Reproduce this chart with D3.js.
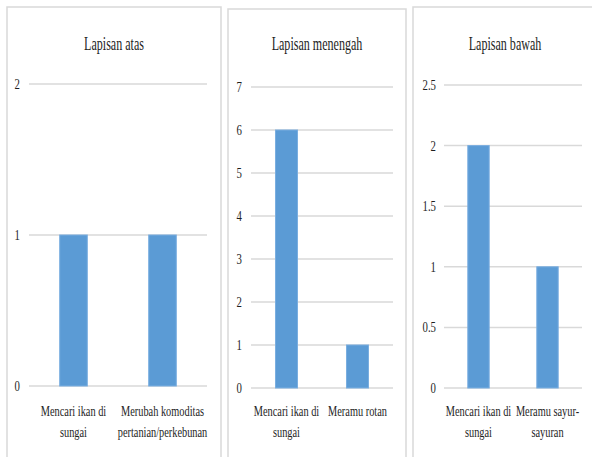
<!DOCTYPE html>
<html>
<head>
<meta charset="utf-8">
<script src="https://cdn.jsdelivr.net/npm/d3@7"></script>
<style>
  html, body { margin: 0; padding: 0; background: #fff; }
</style>
</head>
<body>
<svg id="chart" width="592" height="457"></svg>
<script>
// ---- data ----
const titles = ["Lapisan atas", "Lapisan menengah", "Lapisan bawah"];
const categoriesAtas = ["Mencari ikan di\nsungai", "Merubah komoditas\npertanian/perkebunan"];
const valuesAtas = [1, 1];
const ticksAtas = [0, 1, 2];
const categoriesMenengah = ["Mencari ikan di\nsungai", "Meramu rotan"];
const valuesMenengah = [6, 1];
const ticksMenengah = [0, 1, 2, 3, 4, 5, 6, 7];
const categoriesBawah = ["Mencari ikan di\nsungai", "Meramu sayur-\nsayuran"];
const valuesBawah = [2, 1];
const ticksBawah = [0, 0.5, 1, 1.5, 2, 2.5];

// ---- layout (positions only) ----
const layouts = [
  { bx0: 7,   bx1: 221, by: 7, px0: 29,  px1: 207, pTop: 84, pBot: 386, tickX: 20,  titleX: 114 },
  { bx0: 228, bx1: 406, by: 9, px0: 251, px1: 393, pTop: 87, pBot: 388, tickX: 242, titleX: 317 },
  { bx0: 413, bx1: 600, by: 7, px0: 444, px1: 582, pTop: 85, pBot: 388, tickX: 436, titleX: 505 }
];
const panels = [
  { title: titles[0], cats: categoriesAtas, vals: valuesAtas, ticks: ticksAtas },
  { title: titles[1], cats: categoriesMenengah, vals: valuesMenengah, ticks: ticksMenengah },
  { title: titles[2], cats: categoriesBawah, vals: valuesBawah, ticks: ticksBawah }
];

const FONT = "Liberation Serif";
const svg = d3.select("#chart");
svg.append("rect").attr("width", 592).attr("height", 457).attr("fill", "#fff");

function condensedText(g, x, y, str, size, anchor, sx) {
  return g.append("text")
    .attr("transform", `translate(${x},${y}) scale(${sx},1)`)
    .attr("text-anchor", anchor)
    .style("font-family", FONT)
    .attr("font-size", size)
    .attr("fill", "#1e1e1e")
    .text(str);
}

panels.forEach((p, i) => {
  const L = layouts[i];
  const g = svg.append("g");
  g.append("path")
    .attr("d", `M${L.bx0},470 V${L.by} H${L.bx1} V470`)
    .attr("fill", "none").attr("stroke", "#d9d9d9").attr("stroke-width", 1.5);

  const y = d3.scaleLinear().domain([0, d3.max(p.ticks)]).range([L.pBot, L.pTop]);
  const x = d3.scaleBand().domain(p.cats).range([L.px0, L.px1]).paddingInner(0.69).paddingOuter(0.345);

  g.selectAll(".grid").data(p.ticks).enter().append("line")
    .attr("x1", L.px0).attr("x2", L.px1)
    .attr("y1", d => y(d)).attr("y2", d => y(d))
    .attr("stroke", "#d9d9d9").attr("stroke-width", 1.5);

  p.ticks.forEach(t => {
    condensedText(g, L.tickX, y(t) + 5, String(t), 15, "end", 0.72);
  });

  g.selectAll(".bar").data(p.vals).enter().append("rect")
    .attr("x", (d, j) => x(p.cats[j]))
    .attr("width", x.bandwidth())
    .attr("y", d => y(d))
    .attr("height", d => y(0) - y(d))
    .attr("fill", "#5b9bd5")
    .attr("stroke", "#7aaee0").attr("stroke-width", 1);

  condensedText(g, L.titleX, 50, p.title, 18, "middle", 0.67);

  p.cats.forEach(c => {
    const cx = x(c) + x.bandwidth() / 2;
    c.split("\n").forEach((line, k) => {
      condensedText(g, cx, 416 + k * 21, line, 15, "middle", 0.69);
    });
  });
});
</script>
</body>
</html>
